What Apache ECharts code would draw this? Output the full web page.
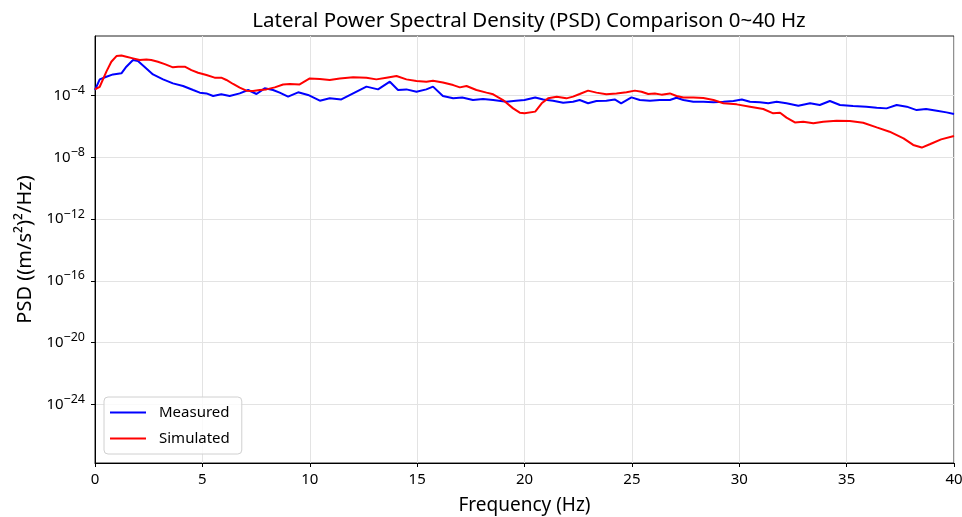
<!DOCTYPE html>
<html>
<head>
<meta charset="utf-8">
<script src="https://cdn.jsdelivr.net/npm/echarts@6/dist/echarts.min.js"></script>
<style>
html,body{margin:0;padding:0;background:#fff;}
#chart{width:962px;height:517px;}
</style>
</head>
<body>
<div id="chart"></div>
<script>
// Frequencies (Hz) and PSD values expressed as log10((m/s^2)^2/Hz)
const measuredFreq = [0,0.22,0.53,0.84,1.23,1.46,1.77,2.0,2.3,2.7,3.17,3.63,4.1,4.57,4.88,5.19,5.5,5.88,6.27,6.74,7.13,7.52,7.9,8.29,8.6,8.99,9.46,9.92,10.47,10.93,11.47,12.02,12.64,13.18,13.73,14.11,14.5,14.97,15.43,15.74,16.2,16.68,17.1,17.6,18.07,18.54,19.16,19.6,20.0,20.5,20.87,21.33,21.8,22.26,22.57,22.96,23.35,23.81,24.2,24.5,24.98,25.37,25.84,26.3,26.77,27.08,27.4,27.86,28.33,28.8,29.26,29.73,30.12,30.5,30.96,31.35,31.74,32.2,32.75,33.3,33.75,34.22,34.69,35.3,35.92,36.4,36.86,37.33,37.8,38.26,38.7,39.2,39.65,40.0];
const measuredLog10 = [-3.63,-2.94,-2.77,-2.62,-2.55,-2.12,-1.69,-1.75,-2.12,-2.62,-2.94,-3.20,-3.37,-3.63,-3.80,-3.85,-4.02,-3.91,-4.02,-3.85,-3.63,-3.89,-3.52,-3.63,-3.80,-4.06,-3.78,-3.95,-4.32,-4.17,-4.24,-3.85,-3.41,-3.59,-3.09,-3.63,-3.59,-3.74,-3.59,-3.41,-4.02,-4.17,-4.11,-4.28,-4.22,-4.28,-4.39,-4.32,-4.28,-4.11,-4.24,-4.32,-4.45,-4.39,-4.28,-4.49,-4.34,-4.32,-4.24,-4.49,-4.11,-4.28,-4.32,-4.28,-4.28,-4.13,-4.28,-4.39,-4.39,-4.43,-4.39,-4.34,-4.24,-4.39,-4.43,-4.49,-4.39,-4.49,-4.65,-4.49,-4.60,-4.34,-4.60,-4.67,-4.71,-4.78,-4.82,-4.60,-4.71,-4.93,-4.86,-4.97,-5.08,-5.19];
const simulatedFreq = [0,0.22,0.53,0.76,1.0,1.23,1.46,1.77,2.08,2.39,2.62,2.93,3.25,3.63,3.87,4.18,4.49,4.8,5.19,5.57,5.88,6.12,6.43,6.74,7.05,7.36,7.67,7.98,8.37,8.76,9.07,9.53,10.0,10.47,10.93,11.4,12.02,12.64,13.1,13.57,14.04,14.5,14.97,15.43,15.74,16.2,16.68,16.99,17.3,17.76,18.23,18.54,19.0,19.47,19.78,20.0,20.5,20.8,21.1,21.5,21.95,22.26,22.57,22.96,23.35,23.81,24.28,24.75,25.14,25.45,25.76,26.07,26.38,26.77,27.08,27.4,27.86,28.33,28.8,29.26,29.88,30.5,31.12,31.58,31.9,32.2,32.59,32.98,33.45,33.91,34.53,35.15,35.77,36.4,37.0,37.65,38.1,38.5,38.9,39.4,40.0];
const simulatedLog10 = [-3.59,-3.42,-2.44,-1.80,-1.43,-1.39,-1.47,-1.58,-1.69,-1.65,-1.69,-1.80,-1.95,-2.16,-2.12,-2.12,-2.34,-2.51,-2.66,-2.83,-2.83,-2.98,-3.24,-3.48,-3.67,-3.70,-3.63,-3.59,-3.46,-3.27,-3.24,-3.27,-2.88,-2.92,-2.98,-2.88,-2.81,-2.83,-2.94,-2.83,-2.72,-2.94,-3.05,-3.09,-3.03,-3.14,-3.31,-3.46,-3.37,-3.63,-3.80,-3.91,-4.28,-4.82,-5.10,-5.14,-5.03,-4.49,-4.17,-4.06,-4.17,-4.06,-3.89,-3.67,-3.80,-3.91,-3.85,-3.78,-3.67,-3.74,-3.89,-3.85,-3.93,-3.85,-4.02,-4.11,-4.11,-4.15,-4.28,-4.49,-4.56,-4.71,-4.86,-5.14,-5.10,-5.42,-5.73,-5.68,-5.79,-5.68,-5.62,-5.64,-5.75,-6.05,-6.33,-6.76,-7.19,-7.36,-7.13,-6.83,-6.61];
const xTicks = [0,5,10,15,20,25,30,35,40];
const yTickExponents = [-24,-20,-16,-12,-8,-4];
const seriesNames = ['Measured','Simulated'];
const titleText = 'Lateral Power Spectral Density (PSD) Comparison 0~40 Hz';
const xLabel = 'Frequency (Hz)';
const yLabel = 'PSD ((m/s²)²/Hz)';

const FONT = '"Noto Sans", "Noto Sans CJK SC", sans-serif';
const chart = echarts.init(document.getElementById('chart'), null, {renderer:'canvas'});
const pairs = (xs, ys) => xs.map((x, i) => [x, ys[i]]);

chart.setOption({
  animation: false,
  backgroundColor: '#fff',
  title: {
    text: titleText, left: 524, top: 6, textAlign: 'center',
    textStyle: {fontFamily: FONT, fontSize: 20.5, fontWeight: 'normal', color: '#000'}
  },
  grid: {left: 95, right: 8, top: 36, bottom: 54, show: true, borderColor: '#222', borderWidth: 1,
    containLabel: false, outerBoundsMode: 'none'},
  legend: {
    left: 104, top: 397, orient: 'vertical',
    data: seriesNames.map(n => ({name: n, icon: 'rect'})),
    itemWidth: 36, itemHeight: 2, itemGap: 11,
    padding: [8, 12, 8, 6],
    backgroundColor: 'rgba(255,255,255,0.8)', borderColor: '#d0d0d0', borderWidth: 1, borderRadius: 4,
    textStyle: {fontFamily: FONT, fontSize: 15, color: '#000', padding: [0, 0, 0, 8]}
  },
  xAxis: {
    type: 'value', min: 0, max: 40, interval: 5,
    name: xLabel, nameLocation: 'middle', nameGap: 33,
    nameTextStyle: {fontFamily: FONT, fontSize: 19, color: '#000'},
    axisLine: {show: true, lineStyle: {color: '#000', width: 1}},
    axisTick: {show: true, inside: false, length: 4, lineStyle: {color: '#000'}},
    axisLabel: {fontFamily: FONT, fontSize: 15, color: '#000', margin: 9,
      customValues: xTicks},
    splitLine: {show: true, lineStyle: {color: '#e3e3e3', width: 1}}
  },
  yAxis: {
    type: 'value', min: -27.8, max: -0.13,
    name: yLabel, nameLocation: 'middle', nameGap: 60,
    nameTextStyle: {fontFamily: FONT, fontSize: 20, color: '#000'},
    axisLine: {show: true, onZero: false, lineStyle: {color: '#000', width: 1}},
    axisTick: {show: true, inside: false, length: 4, lineStyle: {color: '#000'}, customValues: yTickExponents},
    axisLabel: {
      customValues: yTickExponents, margin: 10,
      formatter: v => '{b|10}{e|' + String(v).replace('-', '\u2212') + '}',
      rich: {
        b: {fontFamily: FONT, fontSize: 15, color: '#000'},
        e: {fontFamily: FONT, fontSize: 12.5, color: '#000', padding: [0, 0, 10, 0]}
      }
    },
    splitLine: {show: true, lineStyle: {color: '#e3e3e3', width: 1}}
  },
  series: [
    {name: seriesNames[0], type: 'line', data: pairs(measuredFreq, measuredLog10), showSymbol: false, symbol: 'none',
     lineStyle: {color: '#0000ff', width: 2}, itemStyle: {color: '#0000ff'}, z: 3},
    {name: seriesNames[1], type: 'line', data: pairs(simulatedFreq, simulatedLog10), showSymbol: false, symbol: 'none',
     lineStyle: {color: '#ff0000', width: 2}, itemStyle: {color: '#ff0000'}, z: 4}
  ]
});
</script>
</body>
</html>
